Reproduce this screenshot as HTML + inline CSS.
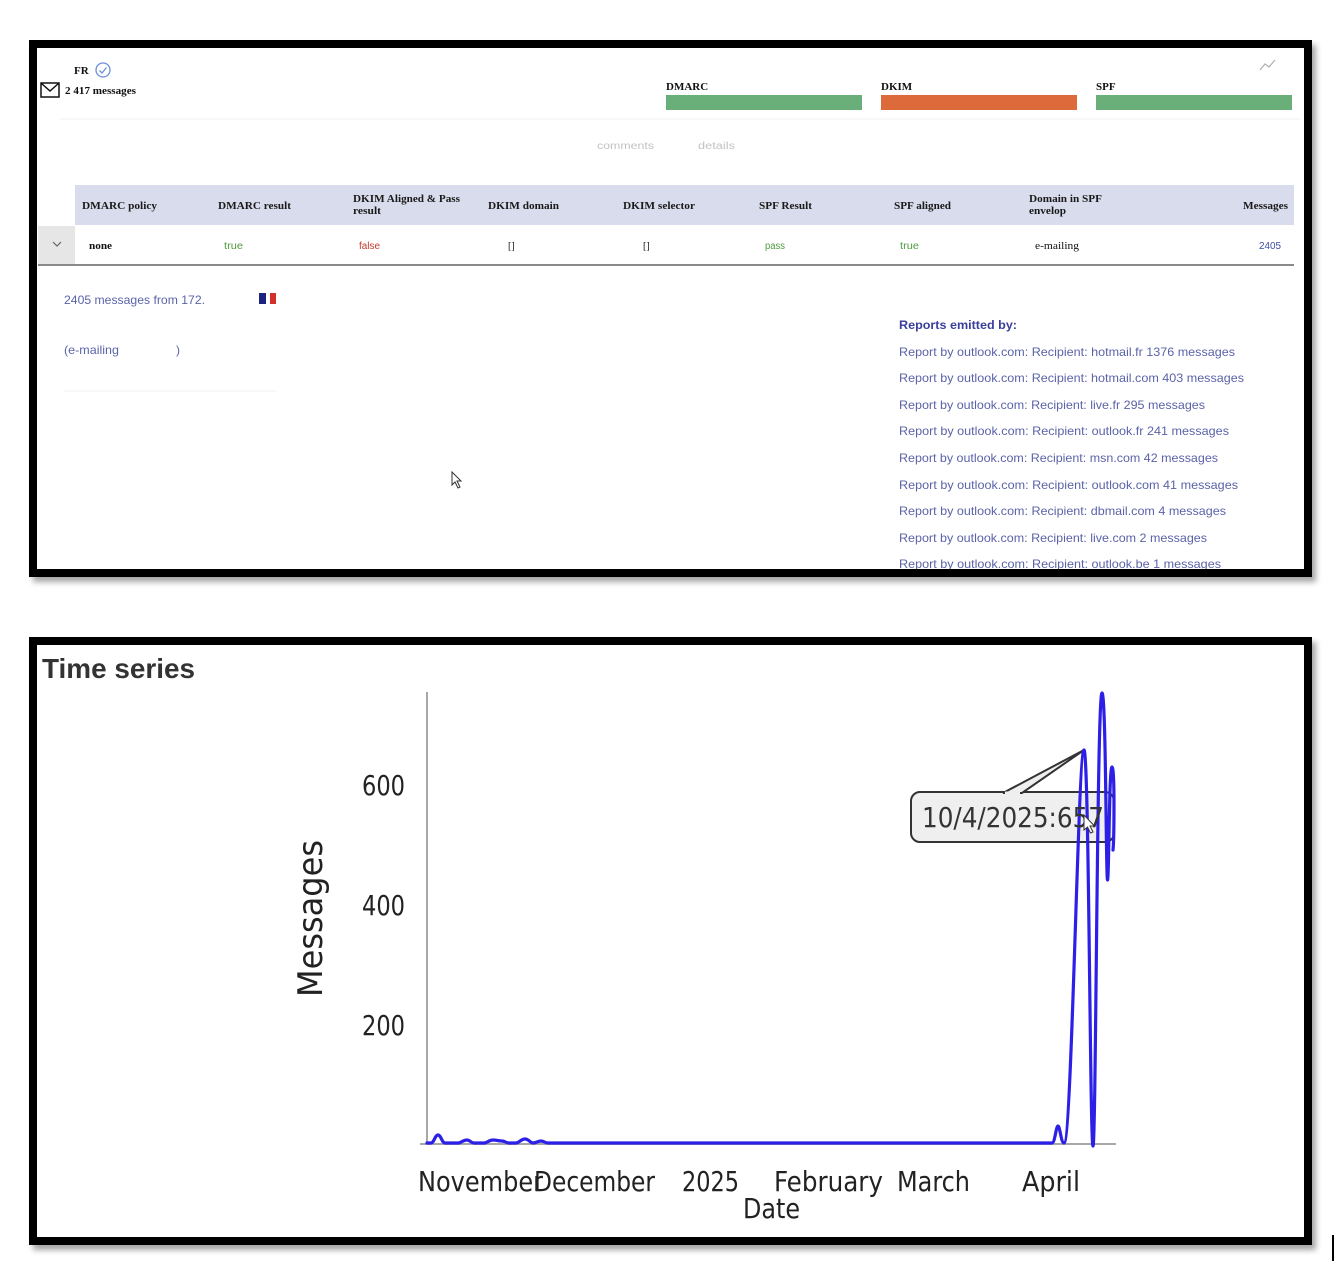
<!DOCTYPE html>
<html>
<head>
<meta charset="utf-8">
<style>
html,body{margin:0;padding:0;background:#fff;}
svg{display:block;}
</style>
</head>
<body>
<svg width="1337" height="1261" viewBox="0 0 1337 1261" xmlns="http://www.w3.org/2000/svg">
<defs>
<filter id="sh" x="-5%" y="-5%" width="110%" height="115%">
<feDropShadow dx="4" dy="5" stdDeviation="3" flood-color="#000" flood-opacity="0.35"/>
</filter>
</defs>
<rect width="1337" height="1261" fill="#fff"/>

<!-- ================= BOX 1 ================= -->
<rect x="33" y="44" width="1275" height="529" fill="#fff" stroke="#000" stroke-width="8" filter="url(#sh)"/>

<!-- header area -->
<g font-family="Liberation Serif, serif" font-weight="bold" fill="#111">
<text x="74" y="74" font-size="11">FR</text>
<text x="65" y="94" font-size="10.5" textLength="71" lengthAdjust="spacingAndGlyphs">2 417 messages</text>
<text x="666" y="90" font-size="11">DMARC</text>
<text x="881" y="90" font-size="11">DKIM</text>
<text x="1096" y="90" font-size="11">SPF</text>
</g>
<!-- envelope -->
<rect x="41" y="83" width="18" height="14" fill="none" stroke="#111" stroke-width="1.5"/>
<polyline points="41,83 50,91 59,83" fill="none" stroke="#111" stroke-width="1.5"/>
<!-- check circle -->
<circle cx="103" cy="70" r="7" fill="none" stroke="#6b8fd8" stroke-width="1.3"/>
<polyline points="99.5,70.5 102,73 106.5,67.5" fill="none" stroke="#6b8fd8" stroke-width="1.3"/>
<!-- bars -->
<rect x="666" y="95" width="196" height="15" fill="#6aae79"/>
<rect x="881" y="95" width="196" height="15" fill="#dd6a3b"/>
<rect x="1096" y="95" width="196" height="15" fill="#6aae79"/>
<!-- trend icon -->
<polyline points="1260,70 1265,64 1269,67 1275,60" fill="none" stroke="#b0b0b0" stroke-width="1.2"/>
<line x1="60" y1="119" x2="1300" y2="119" stroke="#f2f2f2" stroke-width="1"/>

<g font-family="Liberation Sans, sans-serif" font-size="10" fill="#c2c2c2">
<text x="597" y="149" textLength="57" lengthAdjust="spacingAndGlyphs">comments</text>
<text x="698" y="149" textLength="37" lengthAdjust="spacingAndGlyphs">details</text>
</g>

<!-- table header -->
<rect x="75" y="185" width="1219" height="40" fill="#d9dcec"/>
<g font-family="Liberation Serif, serif" font-weight="bold" font-size="10.5" fill="#1a1a1a">
<text x="82" y="209" textLength="75" lengthAdjust="spacingAndGlyphs">DMARC policy</text>
<text x="218" y="209" textLength="73" lengthAdjust="spacingAndGlyphs">DMARC result</text>
<text x="353" y="202" textLength="107" lengthAdjust="spacingAndGlyphs">DKIM Aligned &amp; Pass</text>
<text x="353" y="214" textLength="28" lengthAdjust="spacingAndGlyphs">result</text>
<text x="488" y="209" textLength="71" lengthAdjust="spacingAndGlyphs">DKIM domain</text>
<text x="623" y="209" textLength="72" lengthAdjust="spacingAndGlyphs">DKIM selector</text>
<text x="759" y="209" textLength="53" lengthAdjust="spacingAndGlyphs">SPF Result</text>
<text x="894" y="209" textLength="57" lengthAdjust="spacingAndGlyphs">SPF aligned</text>
<text x="1029" y="202" textLength="73" lengthAdjust="spacingAndGlyphs">Domain in SPF</text>
<text x="1029" y="214" textLength="37" lengthAdjust="spacingAndGlyphs">envelop</text>
<text x="1243" y="209" textLength="45" lengthAdjust="spacingAndGlyphs">Messages</text>
</g>

<!-- table row -->
<rect x="38" y="226" width="37" height="38" fill="#e6e6e6"/>
<polyline points="53,242 57,246 61,242" fill="none" stroke="#666" stroke-width="1.2"/>
<g font-size="10">
<text x="89" y="249" font-family="Liberation Serif, serif" font-weight="bold" fill="#111" textLength="23" lengthAdjust="spacingAndGlyphs">none</text>
<text x="224" y="249" font-family="Liberation Sans, sans-serif" fill="#4f9a3c" textLength="19" lengthAdjust="spacingAndGlyphs">true</text>
<text x="359" y="249" font-family="Liberation Sans, sans-serif" fill="#c73b2e" textLength="21" lengthAdjust="spacingAndGlyphs">false</text>
<text x="508" y="249" font-family="Liberation Serif, serif" fill="#111">[]</text>
<text x="643" y="249" font-family="Liberation Serif, serif" fill="#111">[]</text>
<text x="765" y="249" font-family="Liberation Sans, sans-serif" fill="#4f9a3c" textLength="20" lengthAdjust="spacingAndGlyphs">pass</text>
<text x="900" y="249" font-family="Liberation Sans, sans-serif" fill="#4f9a3c" textLength="19" lengthAdjust="spacingAndGlyphs">true</text>
<text x="1035" y="249" font-family="Liberation Serif, serif" fill="#111" textLength="44" lengthAdjust="spacingAndGlyphs">e-mailing</text>
<text x="1259" y="249" font-family="Liberation Sans, sans-serif" fill="#3d4ea0" textLength="22" lengthAdjust="spacingAndGlyphs">2405</text>
</g>
<line x1="38" y1="265" x2="1294" y2="265" stroke="#8a8a8a" stroke-width="2"/>

<!-- left panel -->
<g font-family="Liberation Sans, sans-serif" font-size="12" fill="#5a64a8">
<text x="64" y="304" textLength="141" lengthAdjust="spacingAndGlyphs">2405 messages from 172.</text>
<text x="64" y="354" textLength="55" lengthAdjust="spacingAndGlyphs">(e-mailing</text>
<text x="176" y="354">)</text>
</g>
<rect x="259" y="293" width="7" height="11" fill="#1c2380"/>
<rect x="266" y="293" width="4" height="11" fill="#fff"/>
<rect x="270" y="293" width="6" height="11" fill="#d2302b"/>
<line x1="64" y1="391" x2="276" y2="391" stroke="#f1f1f1" stroke-width="1"/>
<!-- cursor -->
<path d="M452,472 L452,485 L455,482 L458,488 L460,487 L457,481 L461,481 Z" fill="#fff" stroke="#333" stroke-width="1"/>

<!-- reports -->
<text x="899" y="329" font-family="Liberation Sans, sans-serif" font-size="12" font-weight="bold" fill="#3a3f9c" textLength="118" lengthAdjust="spacingAndGlyphs">Reports emitted by:</text>
<g font-family="Liberation Sans, sans-serif" font-size="12" fill="#5b63a8">
<text x="899" y="356" textLength="336" lengthAdjust="spacingAndGlyphs">Report by outlook.com: Recipient: hotmail.fr 1376 messages</text>
<text x="899" y="382" textLength="345" lengthAdjust="spacingAndGlyphs">Report by outlook.com: Recipient: hotmail.com 403 messages</text>
<text x="899" y="409" textLength="306" lengthAdjust="spacingAndGlyphs">Report by outlook.com: Recipient: live.fr 295 messages</text>
<text x="899" y="435" textLength="330" lengthAdjust="spacingAndGlyphs">Report by outlook.com: Recipient: outlook.fr 241 messages</text>
<text x="899" y="462" textLength="319" lengthAdjust="spacingAndGlyphs">Report by outlook.com: Recipient: msn.com 42 messages</text>
<text x="899" y="489" textLength="339" lengthAdjust="spacingAndGlyphs">Report by outlook.com: Recipient: outlook.com 41 messages</text>
<text x="899" y="515" textLength="327" lengthAdjust="spacingAndGlyphs">Report by outlook.com: Recipient: dbmail.com 4 messages</text>
<text x="899" y="542" textLength="308" lengthAdjust="spacingAndGlyphs">Report by outlook.com: Recipient: live.com 2 messages</text>
<text x="899" y="568" textLength="322" lengthAdjust="spacingAndGlyphs">Report by outlook.com: Recipient: outlook.be 1 messages</text>
</g>
<!-- redraw border on top to clip last line -->
<rect x="33" y="44" width="1275" height="529" fill="none" stroke="#000" stroke-width="8"/>

<!-- ================= BOX 2 ================= -->
<rect x="33" y="641" width="1275" height="600" fill="#fff" stroke="#000" stroke-width="8" filter="url(#sh)"/>
<rect x="33" y="641" width="1275" height="600" fill="none" stroke="#000" stroke-width="8"/>

<text x="42" y="678" font-family="Liberation Sans, sans-serif" font-size="28" font-weight="bold" fill="#333" textLength="153" lengthAdjust="spacingAndGlyphs">Time series</text>

<!-- axes -->
<line x1="427" y1="692" x2="427" y2="1144" stroke="#a8a8a8" stroke-width="2"/>
<line x1="420" y1="1144" x2="1116" y2="1144" stroke="#a8a8a8" stroke-width="2"/>

<g font-family="DejaVu Sans Condensed, DejaVu Sans, sans-serif" font-size="28" fill="#222">
<text x="362" y="795" textLength="43" lengthAdjust="spacingAndGlyphs">600</text>
<text x="362" y="915" textLength="43" lengthAdjust="spacingAndGlyphs">400</text>
<text x="362" y="1035" textLength="43" lengthAdjust="spacingAndGlyphs">200</text>
<text x="418" y="1191" textLength="125" lengthAdjust="spacingAndGlyphs">November</text>
<text x="534" y="1191" textLength="121" lengthAdjust="spacingAndGlyphs">December</text>
<text x="682" y="1191" textLength="57" lengthAdjust="spacingAndGlyphs">2025</text>
<text x="774" y="1191" textLength="109" lengthAdjust="spacingAndGlyphs">February</text>
<text x="897" y="1191" textLength="73" lengthAdjust="spacingAndGlyphs">March</text>
<text x="1022" y="1191" textLength="58" lengthAdjust="spacingAndGlyphs">April</text>
<text x="743" y="1218" textLength="57" lengthAdjust="spacingAndGlyphs">Date</text>
<text transform="translate(322,997) rotate(-90)" font-size="34" textLength="157" lengthAdjust="spacingAndGlyphs">Messages</text>
</g>

<!-- tooltip -->
<rect x="911" y="792" width="203" height="50" rx="9" ry="9" fill="#efefef" stroke="#333" stroke-width="2"/>
<polygon points="1003,793 1084,750 1022,793" fill="#efefef" stroke="#333" stroke-width="2"/>
<line x1="1005" y1="793" x2="1020" y2="793" stroke="#efefef" stroke-width="3"/>

<!-- series -->
<path d="M427,1143 L431,1143 C434,1143 435,1135 438,1135 C441,1135 442,1143 445,1143 L458,1143 C461,1143 463,1140 467,1140 C470,1140 471,1143 474,1143 L484,1143 C487,1143 489,1140 493,1140 C497,1140 498,1141 502,1141 C505,1141 506,1143 509,1143 L516,1143 C519,1143 521,1139 525,1139 C529,1139 530,1143 533,1143 C536,1143 538,1141 541,1141 C544,1141 545,1143 548,1143 L1052,1143 C1055,1143 1056,1126 1058,1126 C1060,1126 1061,1143 1064,1143 C1072,1143 1078,750 1084,750 C1089,750 1090,1146 1093,1146 C1096,1146 1097,693 1102,693 C1106,693 1106,880 1107.5,880 C1109,880 1109,767 1112,767 C1115,767 1114,840 1113,850" fill="none" stroke="#2c1fe8" stroke-width="3.2" stroke-linejoin="round" stroke-linecap="round"/>

<text x="922" y="827" font-family="DejaVu Sans Condensed, DejaVu Sans, sans-serif" font-size="28" fill="#333" textLength="182" lengthAdjust="spacingAndGlyphs">10/4/2025:657</text>
<!-- mouse cursor -->
<path d="M1084,815 L1084,830 L1087.5,827 L1090.5,833 L1093,832 L1090,826 L1094.5,826 Z" fill="#fff" stroke="#333" stroke-width="1"/>

<!-- small line bottom right -->
<line x1="1333" y1="1235" x2="1333" y2="1261" stroke="#000" stroke-width="2"/>
</svg>
</body>
</html>
